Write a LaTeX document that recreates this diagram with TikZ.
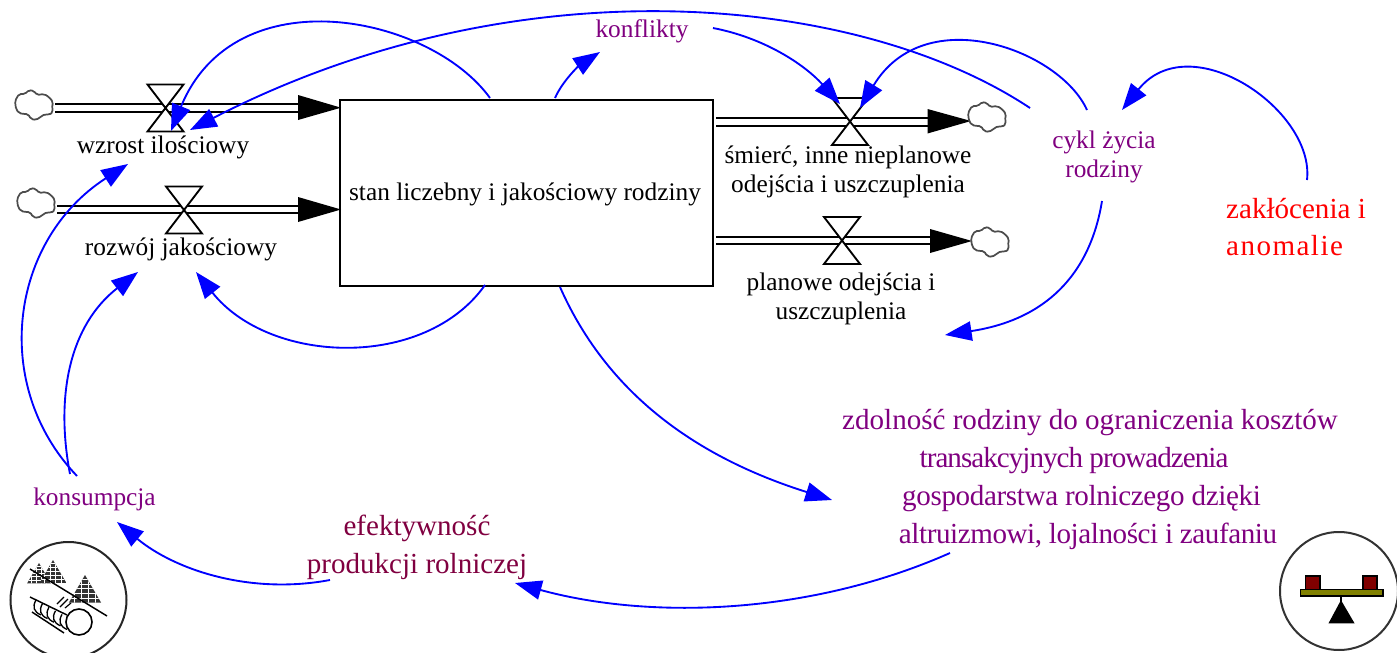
\documentclass[tikz,border=0pt]{standalone}
\usepackage{fontspec}
\setmainfont{Liberation Serif}
\usetikzlibrary{arrows.meta}
\definecolor{vpurple}{RGB}{128,0,128}
\definecolor{vmaroon}{RGB}{128,0,64}
\definecolor{vblue}{RGB}{0,0,255}
\tikzset{
  x=0.75pt,y=-0.75pt,
  lbl/.style={font=\fontsize{19pt}{21.5pt}\selectfont,align=center,inner sep=0pt,text=black},
  lblpurple/.style={lbl,text=vpurple},
  lblbig/.style={font=\fontsize{21.8pt}{28.3pt}\selectfont,align=center,inner sep=0pt},
  link/.style={draw=vblue,line width=1.4pt,-{Triangle[length=20pt,width=14.5pt]}},
  pipe/.style={draw=black,line width=1.5pt,double=white,double distance=4.3pt},
  flowhead/.style={fill=black,draw=none},
  stockbox/.style={draw=black,line width=1.5pt,fill=white,minimum width=280pt,minimum height=139.5pt,inner sep=0pt,anchor=north west},
  pics/valve/.style={code={
    \draw[line width=1.4pt,fill=white] (-18,-23.5) -- (18,-23.5) -- (-18,23.5) -- (18,23.5) -- cycle;
  }},
  pics/sourcecloud/.style={code={
    \draw[line width=1.3pt,draw=black!70,fill=white,rounded corners=1.4pt]
      (-19,-4) -- (-15,-11) -- (-9,-11) -- (-5,-15) -- (0,-14) -- (3,-10) -- (10,-11) -- (15,-8) -- (19,-3) -- (18,3) -- (19,7)
      -- (15,10) -- (11,9) -- (8,11) -- (2,15) -- (-3,14) -- (-6,9) -- (-11,9) -- (-15,8) -- (-18,4) -- cycle;
  }},
  pics/firtree/.style={code={
    \begin{scope}
    \clip (0,0) -- (14,24) -- (-14,24) -- cycle;
    \fill[black!80] (-15,-1) rectangle (15,25);
    \foreach \h in {4,8,12,16,20}{\draw[white,line width=.7pt] (-15,\h) -- (15,\h);}
    \foreach \h in {-9,-3,3,9}{\draw[white,line width=.7pt] (\h,0) -- (\h,25);}
    \end{scope}
  }}
}
\begin{document}
\begin{tikzpicture}
\useasboundingbox (0,0) rectangle (1397,653);
% anchors
\coordinate (cl1) at (34,105);
\coordinate (cl2) at (36,203);
\coordinate (cl3) at (987,117);
\coordinate (cl4) at (990,242);
\coordinate (v1) at (165.5,108);
\coordinate (v2) at (184,210);
\coordinate (v3) at (850,121.5);
\coordinate (v4) at (842,240.5);
\node[stockbox] (stock) at (339,99) {};
\node[lbl] (stocktxt) at (525,194) {stan liczebny i jakościowy rodziny};
% pipes
\coordinate (p1a) at (55,108); \coordinate (p1b) at (300,108);
\coordinate (p2a) at (57,209.5); \coordinate (p2b) at (300,209.5);
\coordinate (p3a) at (716,121.7); \coordinate (p3b) at (930,121.7);
\coordinate (p4a) at (716,240.5); \coordinate (p4b) at (932,240.5);
\draw[pipe] (p1a) -- (p1b);
\draw[pipe] (p2a) -- (p2b);
\draw[pipe] (p3a) -- (p3b);
\draw[pipe] (p4a) -- (p4b);
\fill[flowhead] (298,95) -- (341,107.7) -- (298,120) -- cycle;
\fill[flowhead] (298,197) -- (341,209.5) -- (298,222) -- cycle;
\fill[flowhead] (927.5,109) -- (971,121) -- (927.5,133.5) -- cycle;
\fill[flowhead] (930,229) -- (972,241) -- (930,253) -- cycle;
\pic at (v1) {valve};
\pic at (v2) {valve};
\pic at (v3) {valve};
\pic at (v4) {valve};
\pic at (cl1) {sourcecloud};
\pic at (cl2) {sourcecloud};
\pic at (cl3) {sourcecloud};
\pic at (cl4) {sourcecloud};
% labels
\node[lbl] (wzrost) at (163,147) {wzrost ilościowy};
\node[lbl] (rozwoj) at (181,249) {rozwój jakościowy};
\node[lbl] (smierc) at (848,172) {śmierć, inne nieplanowe\\odejścia i uszczuplenia};
\node[lbl] (planowe) at (841,299) {planowe odejścia i\\uszczuplenia};
\node[lblpurple] (konflikty) at (642,31) {konflikty};
\node[lblpurple] (cykl) at (1104,157) {cykl życia\\rodziny};
\node[lblpurple] (konsumpcja) at (94.5,499) {konsumpcja};
\node[lblbig,text=red,align=left] (zaklocenia) at (1296,227) {zakłócenia i\\{\addfontfeature{LetterSpace=5}anomalie}};
\node[lblbig,text=vpurple,anchor=base] (zdA) at (1090,429) {zdolność rodziny do ograniczenia kosztów};
\node[lblbig,text=vpurple,anchor=base] (zdB) at (1074,467) {\addfontfeature{LetterSpace=-3.3}transakcyjnych prowadzenia};
\node[lblbig,text=vpurple,anchor=base] (zdC) at (1081.5,505) {\addfontfeature{LetterSpace=-1.2}gospodarstwa rolniczego dzięki};
\node[lblbig,text=vpurple,anchor=base] (zdD) at (1088,543) {\addfontfeature{LetterSpace=-1.45}altruizmowi, lojalności i zaufaniu};
\node[lblbig,text=vmaroon] (efekt) at (417,547) {efektywność\\produkcji rolniczej};
% connector ends
\coordinate (s1) at (490,98);
\coordinate (s2) at (555,98);
\coordinate (s3) at (485,285);
\coordinate (s4) at (560,287);
\coordinate (kf) at (713,28);
\coordinate (c1) at (1030,108);
\coordinate (c2) at (1087,110);
\coordinate (c3) at (1102,201);
\coordinate (z1) at (1307,180);
\coordinate (zd) at (950,553);
\coordinate (ef) at (330,580);
\coordinate (ks1) at (77,476);
\coordinate (ks2) at (70,474);
\coordinate (t1) at (171,131);
\coordinate (t2) at (190,130);
\coordinate (t3) at (600,52);
\coordinate (t4) at (840,104);
\coordinate (t5) at (860,108);
\coordinate (t6) at (1122,110);
\coordinate (t7) at (945,335);
\coordinate (t8) at (196,272);
\coordinate (t9) at (832,500);
\coordinate (t10) at (515,583);
\coordinate (t11) at (117,522);
\coordinate (t12) at (128,164);
\coordinate (t13) at (138,272);
\draw[link] (s1) .. controls (430,15) and (235,-25) .. (t1);
\draw[link] (c1) .. controls (860,-5) and (520,-40) .. (t2);
\draw[link] (s2) .. controls (563,80) and (580,65) .. (t3);
\draw[link] (kf) .. controls (765,38) and (805,65) .. (t4);
\draw[link] (c2) .. controls (1060,50) and (925,0) .. (t5);
\draw[link] (z1) .. controls (1315,110) and (1190,25) .. (t6);
\draw[link] (c3) .. controls (1090,275) and (1045,320) .. (t7);
\draw[link] (s3) .. controls (425,370) and (270,365) .. (t8);
\draw[link] (s4) .. controls (610,400) and (705,460) .. (t9);
\draw[link] (zd) .. controls (810,615) and (650,620) .. (t10);
\draw[link] (ef) .. controls (250,595) and (175,570) .. (t11);
\draw[link] (ks1) .. controls (-10,385) and (10,240) .. (t12);
\draw[link] (ks2) .. controls (55,395) and (70,325) .. (t13);
% balance icon
\draw[line width=1.5pt,draw=black!80,fill=white] (1339,591) circle[radius=59];
\draw[line width=1.4pt,fill=black] (1341,596) -- (1341,605) (1341,602) -- (1353,622.5) -- (1330,622.5) -- cycle;
\draw[line width=1.2pt,fill={rgb,255:red,128;green,128;blue,0}] (1300.5,589.5) rectangle (1383,596);
\draw[line width=1.2pt,fill={rgb,255:red,128;green,0;blue,0}] (1305.5,576) rectangle (1320,589.5);
\draw[line width=1.2pt,fill={rgb,255:red,128;green,0;blue,0}] (1363,576) rectangle (1377,589.5);
% forest icon
\draw[line width=1.5pt,draw=black!85,fill=white] (68.5,600) circle[radius=58];
\pic[scale=.85] at (39,563) {firtree};
\pic[scale=.95] at (53,560) {firtree};
\pic[scale=1.15] at (85,575) {firtree};
\draw[line width=1.1pt] (30,569) -- (107,616);
\draw[line width=1.1pt] (30,597) -- (67,615) (32,612) -- (64,633);
\foreach \k in {0,1,2,3,4}{
  \draw[line width=1pt] (36+\k*6.5,600+\k*3.6) .. controls (32+\k*6.5,607+\k*3.6) and (34+\k*6.5,612+\k*3.6) .. (41+\k*6.5,615+\k*3.6);
}
\draw[line width=1.2pt,fill=white] (79,622) circle[radius=13];
\draw[line width=.9pt] (57,604) -- (64,597) (60,607) -- (68,599) (65,608) -- (71,603);
\end{tikzpicture}
\end{document}
